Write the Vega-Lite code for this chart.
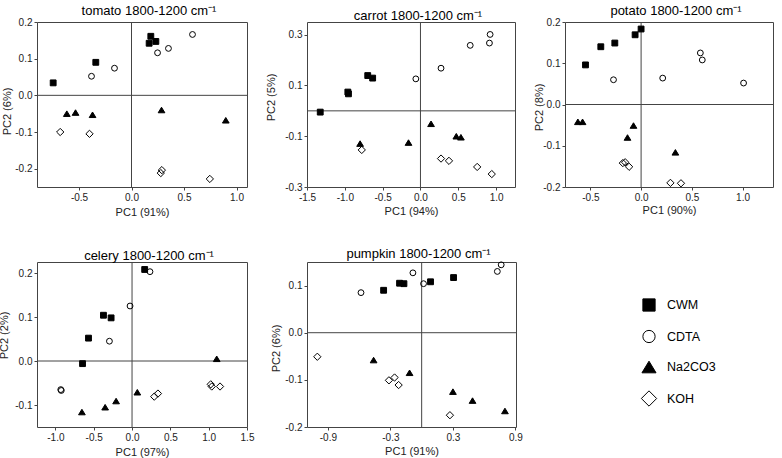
{
  "$schema": "https://vega.github.io/schema/vega-lite/v6.json",
  "padding": {"left": -3, "top": 4, "right": 0, "bottom": 0},
  "background": "white",
  "datasets": {
    "tomato": [
      {"g": "CWM", "pc1": -0.746, "pc2": 0.034}, {"g": "CWM", "pc1": -0.34, "pc2": 0.09}, {"g": "CWM", "pc1": 0.168, "pc2": 0.142}, {"g": "CWM", "pc1": 0.184, "pc2": 0.161}, {"g": "CWM", "pc1": 0.232, "pc2": 0.147},
      {"g": "CDTA", "pc1": -0.381, "pc2": 0.052}, {"g": "CDTA", "pc1": -0.162, "pc2": 0.074}, {"g": "CDTA", "pc1": 0.248, "pc2": 0.116}, {"g": "CDTA", "pc1": 0.352, "pc2": 0.128}, {"g": "CDTA", "pc1": 0.581, "pc2": 0.166},
      {"g": "Na2CO3", "pc1": -0.616, "pc2": -0.05}, {"g": "Na2CO3", "pc1": -0.533, "pc2": -0.047}, {"g": "Na2CO3", "pc1": -0.371, "pc2": -0.053}, {"g": "Na2CO3", "pc1": 0.286, "pc2": -0.04}, {"g": "Na2CO3", "pc1": 0.898, "pc2": -0.068},
      {"g": "KOH", "pc1": -0.679, "pc2": -0.1}, {"g": "KOH", "pc1": -0.4, "pc2": -0.105}, {"g": "KOH", "pc1": 0.289, "pc2": -0.204}, {"g": "KOH", "pc1": 0.279, "pc2": -0.212}, {"g": "KOH", "pc1": 0.746, "pc2": -0.228}
    ],
    "carrot": [
      {"g": "CWM", "pc1": -1.325, "pc2": -0.005}, {"g": "CWM", "pc1": -0.96, "pc2": 0.074}, {"g": "CWM", "pc1": -0.952, "pc2": 0.067}, {"g": "CWM", "pc1": -0.697, "pc2": 0.139}, {"g": "CWM", "pc1": -0.632, "pc2": 0.129},
      {"g": "CDTA", "pc1": -0.061, "pc2": 0.126}, {"g": "CDTA", "pc1": 0.272, "pc2": 0.168}, {"g": "CDTA", "pc1": 0.658, "pc2": 0.258}, {"g": "CDTA", "pc1": 0.912, "pc2": 0.267}, {"g": "CDTA", "pc1": 0.921, "pc2": 0.301},
      {"g": "Na2CO3", "pc1": -0.798, "pc2": -0.129}, {"g": "Na2CO3", "pc1": -0.158, "pc2": -0.125}, {"g": "Na2CO3", "pc1": 0.14, "pc2": -0.051}, {"g": "Na2CO3", "pc1": 0.474, "pc2": -0.1}, {"g": "Na2CO3", "pc1": 0.535, "pc2": -0.104},
      {"g": "KOH", "pc1": -0.776, "pc2": -0.154}, {"g": "KOH", "pc1": 0.272, "pc2": -0.188}, {"g": "KOH", "pc1": 0.377, "pc2": -0.197}, {"g": "KOH", "pc1": 0.75, "pc2": -0.221}, {"g": "KOH", "pc1": 0.943, "pc2": -0.249}
    ],
    "potato": [
      {"g": "CWM", "pc1": -0.548, "pc2": 0.096}, {"g": "CWM", "pc1": -0.397, "pc2": 0.14}, {"g": "CWM", "pc1": -0.259, "pc2": 0.149}, {"g": "CWM", "pc1": -0.059, "pc2": 0.169}, {"g": "CWM", "pc1": 0.0, "pc2": 0.183},
      {"g": "CDTA", "pc1": -0.272, "pc2": 0.06}, {"g": "CDTA", "pc1": 0.213, "pc2": 0.064}, {"g": "CDTA", "pc1": 0.584, "pc2": 0.125}, {"g": "CDTA", "pc1": 0.603, "pc2": 0.108}, {"g": "CDTA", "pc1": 1.01, "pc2": 0.052},
      {"g": "Na2CO3", "pc1": -0.623, "pc2": -0.042}, {"g": "Na2CO3", "pc1": -0.577, "pc2": -0.042}, {"g": "Na2CO3", "pc1": -0.075, "pc2": -0.051}, {"g": "Na2CO3", "pc1": -0.134, "pc2": -0.08}, {"g": "Na2CO3", "pc1": 0.338, "pc2": -0.116},
      {"g": "KOH", "pc1": -0.18, "pc2": -0.142}, {"g": "KOH", "pc1": -0.157, "pc2": -0.14}, {"g": "KOH", "pc1": -0.118, "pc2": -0.151}, {"g": "KOH", "pc1": 0.289, "pc2": -0.19}, {"g": "KOH", "pc1": 0.393, "pc2": -0.191}
    ],
    "celery": [
      {"g": "CWM", "pc1": -0.646, "pc2": -0.006}, {"g": "CWM", "pc1": -0.568, "pc2": 0.052}, {"g": "CWM", "pc1": -0.373, "pc2": 0.104}, {"g": "CWM", "pc1": -0.273, "pc2": 0.098}, {"g": "CWM", "pc1": 0.165, "pc2": 0.208},
      {"g": "CDTA", "pc1": -0.923, "pc2": -0.067}, {"g": "CDTA", "pc1": -0.93, "pc2": -0.065}, {"g": "CDTA", "pc1": -0.295, "pc2": 0.045}, {"g": "CDTA", "pc1": -0.026, "pc2": 0.125}, {"g": "CDTA", "pc1": 0.234, "pc2": 0.203},
      {"g": "Na2CO3", "pc1": -0.654, "pc2": -0.116}, {"g": "Na2CO3", "pc1": -0.351, "pc2": -0.105}, {"g": "Na2CO3", "pc1": -0.208, "pc2": -0.091}, {"g": "Na2CO3", "pc1": 0.069, "pc2": -0.071}, {"g": "Na2CO3", "pc1": 1.105, "pc2": 0.005},
      {"g": "KOH", "pc1": 0.29, "pc2": -0.081}, {"g": "KOH", "pc1": 0.338, "pc2": -0.074}, {"g": "KOH", "pc1": 1.027, "pc2": -0.053}, {"g": "KOH", "pc1": 1.04, "pc2": -0.058}, {"g": "KOH", "pc1": 1.148, "pc2": -0.058}
    ],
    "pumpkin": [
      {"g": "CWM", "pc1": -0.365, "pc2": 0.09}, {"g": "CWM", "pc1": -0.212, "pc2": 0.105}, {"g": "CWM", "pc1": -0.17, "pc2": 0.104}, {"g": "CWM", "pc1": 0.085, "pc2": 0.108}, {"g": "CWM", "pc1": 0.306, "pc2": 0.117},
      {"g": "CDTA", "pc1": -0.582, "pc2": 0.085}, {"g": "CDTA", "pc1": -0.084, "pc2": 0.127}, {"g": "CDTA", "pc1": 0.018, "pc2": 0.104}, {"g": "CDTA", "pc1": 0.726, "pc2": 0.13}, {"g": "CDTA", "pc1": 0.763, "pc2": 0.144},
      {"g": "Na2CO3", "pc1": -0.461, "pc2": -0.058}, {"g": "Na2CO3", "pc1": -0.116, "pc2": -0.085}, {"g": "Na2CO3", "pc1": 0.3, "pc2": -0.125}, {"g": "Na2CO3", "pc1": 0.488, "pc2": -0.144}, {"g": "Na2CO3", "pc1": 0.799, "pc2": -0.166},
      {"g": "KOH", "pc1": -1.001, "pc2": -0.051}, {"g": "KOH", "pc1": -0.314, "pc2": -0.101}, {"g": "KOH", "pc1": -0.26, "pc2": -0.095}, {"g": "KOH", "pc1": -0.221, "pc2": -0.111}, {"g": "KOH", "pc1": 0.271, "pc2": -0.175}
    ],
    "origin": [{"z": 0}]
  },
  "spacing": 29,
  "vconcat": [
    {
      "spacing": 16,
      "hconcat": [
        {
          "title": {"text": "tomato 1800-1200 cm⁻¹"},
          "width": 210, "height": 165,
          "layer": [
            {"data": {"name": "origin"}, "mark": {"type": "rule", "color": "#444", "strokeWidth": 1}, "encoding": {"x": {"field": "z", "type": "quantitative"}}},
            {"data": {"name": "origin"}, "mark": {"type": "rule", "color": "#444", "strokeWidth": 1}, "encoding": {"y": {"field": "z", "type": "quantitative"}}},
            {"data": {"name": "tomato"}, "mark": {"type": "point", "size": 34, "strokeWidth": 1, "opacity": 1},
             "encoding": {
               "x": {"field": "pc1", "type": "quantitative", "title": "PC1 (91%)", "scale": {"domain": [-0.9, 1.1], "nice": false, "zero": false}, "axis": {"values": [-0.5, 0, 0.5, 1.0], "format": ".1f", "titleY": 25, "titleBaseline": "middle"}},
               "y": {"field": "pc2", "type": "quantitative", "title": "PC2 (6%)", "scale": {"domain": [-0.25, 0.2], "nice": false, "zero": false}, "axis": {"values": [-0.2, -0.1, 0, 0.1, 0.2], "format": ".1f", "titleX": -29.5, "titleY": 89, "titleBaseline": "middle"}},
               "shape": {"field": "g", "type": "nominal", "title": null, "scale": {"domain": ["CWM", "CDTA", "Na2CO3", "KOH"], "range": ["square", "circle", "M0,-0.95L1.15,0.95L-1.15,0.95Z", "M0,-1.25L1.25,0L0,1.25L-1.25,0Z"]}},
               "fill": {"field": "g", "type": "nominal", "title": null, "scale": {"domain": ["CWM", "CDTA", "Na2CO3", "KOH"], "range": ["black", "transparent", "black", "transparent"]}},
               "stroke": {"field": "g", "type": "nominal", "title": null, "scale": {"domain": ["CWM", "CDTA", "Na2CO3", "KOH"], "range": ["black", "black", "black", "black"]}}
             }}
          ]
        },
        {
          "title": {"text": "carrot 1800-1200 cm⁻¹"},
          "width": 208, "height": 165,
          "layer": [
            {"data": {"name": "origin"}, "mark": {"type": "rule", "color": "#444", "strokeWidth": 1}, "encoding": {"x": {"field": "z", "type": "quantitative"}}},
            {"data": {"name": "origin"}, "mark": {"type": "rule", "color": "#444", "strokeWidth": 1}, "encoding": {"y": {"field": "z", "type": "quantitative"}}},
            {"data": {"name": "carrot"}, "mark": {"type": "point", "size": 34, "strokeWidth": 1, "opacity": 1},
             "encoding": {
               "x": {"field": "pc1", "type": "quantitative", "title": "PC1 (94%)", "scale": {"domain": [-1.5, 1.25], "nice": false, "zero": false}, "axis": {"values": [-1.5, -1.0, -0.5, 0, 0.5, 1.0], "format": ".1f", "titleY": 24.5, "titleBaseline": "middle"}},
               "y": {"field": "pc2", "type": "quantitative", "title": "PC2 (5%)", "scale": {"domain": [-0.3, 0.35], "nice": false, "zero": false}, "axis": {"values": [-0.3, -0.2, -0.1, 0, 0.1, 0.2, 0.3], "format": ".1f", "titleX": -36, "titleY": 75, "titleBaseline": "middle"}},
               "shape": {"field": "g", "type": "nominal", "title": null, "scale": {"domain": ["CWM", "CDTA", "Na2CO3", "KOH"], "range": ["square", "circle", "M0,-0.95L1.15,0.95L-1.15,0.95Z", "M0,-1.25L1.25,0L0,1.25L-1.25,0Z"]}},
               "fill": {"field": "g", "type": "nominal", "title": null, "scale": {"domain": ["CWM", "CDTA", "Na2CO3", "KOH"], "range": ["black", "transparent", "black", "transparent"]}},
               "stroke": {"field": "g", "type": "nominal", "title": null, "scale": {"domain": ["CWM", "CDTA", "Na2CO3", "KOH"], "range": ["black", "black", "black", "black"]}}
             }}
          ]
        },
        {
          "title": {"text": "potato 1800-1200 cm⁻¹"},
          "width": 208, "height": 165,
          "layer": [
            {"data": {"name": "origin"}, "mark": {"type": "rule", "color": "#444", "strokeWidth": 1}, "encoding": {"x": {"field": "z", "type": "quantitative"}}},
            {"data": {"name": "origin"}, "mark": {"type": "rule", "color": "#444", "strokeWidth": 1}, "encoding": {"y": {"field": "z", "type": "quantitative"}}},
            {"data": {"name": "potato"}, "mark": {"type": "point", "size": 34, "strokeWidth": 1, "opacity": 1},
             "encoding": {
               "x": {"field": "pc1", "type": "quantitative", "title": "PC1 (90%)", "scale": {"domain": [-0.75, 1.3], "nice": false, "zero": false}, "axis": {"values": [-0.5, 0, 0.5, 1.0], "format": ".1f", "titleY": 23, "titleBaseline": "middle"}},
               "y": {"field": "pc2", "type": "quantitative", "title": "PC2 (8%)", "scale": {"domain": [-0.2, 0.2], "nice": false, "zero": false}, "axis": {"values": [-0.2, -0.1, 0, 0.1, 0.2], "format": ".1f", "titleX": -26, "titleY": 85, "titleBaseline": "middle"}},
               "shape": {"field": "g", "type": "nominal", "title": null, "scale": {"domain": ["CWM", "CDTA", "Na2CO3", "KOH"], "range": ["square", "circle", "M0,-0.95L1.15,0.95L-1.15,0.95Z", "M0,-1.25L1.25,0L0,1.25L-1.25,0Z"]}},
               "fill": {"field": "g", "type": "nominal", "title": null, "scale": {"domain": ["CWM", "CDTA", "Na2CO3", "KOH"], "range": ["black", "transparent", "black", "transparent"]}},
               "stroke": {"field": "g", "type": "nominal", "title": null, "scale": {"domain": ["CWM", "CDTA", "Na2CO3", "KOH"], "range": ["black", "black", "black", "black"]}}
             }}
          ]
        }
      ]
    },
    {
      "spacing": 14,
      "hconcat": [
        {
          "title": {"text": "celery 1800-1200 cm⁻¹"},
          "width": 210, "height": 165,
          "layer": [
            {"data": {"name": "origin"}, "mark": {"type": "rule", "color": "#444", "strokeWidth": 1}, "encoding": {"x": {"field": "z", "type": "quantitative"}}},
            {"data": {"name": "origin"}, "mark": {"type": "rule", "color": "#444", "strokeWidth": 1}, "encoding": {"y": {"field": "z", "type": "quantitative"}}},
            {"data": {"name": "celery"}, "mark": {"type": "point", "size": 34, "strokeWidth": 1, "opacity": 1},
             "encoding": {
               "x": {"field": "pc1", "type": "quantitative", "title": "PC1 (97%)", "scale": {"domain": [-1.24, 1.5], "nice": false, "zero": false}, "axis": {"values": [-1.0, -0.5, 0, 0.5, 1.0, 1.5], "format": ".1f", "titleY": 25, "titleBaseline": "middle"}},
               "y": {"field": "pc2", "type": "quantitative", "title": "PC2 (2%)", "scale": {"domain": [-0.15, 0.225], "nice": false, "zero": false}, "axis": {"values": [-0.1, 0, 0.1, 0.2], "format": ".1f", "titleX": -33, "titleY": 73, "titleBaseline": "middle"}},
               "shape": {"field": "g", "type": "nominal", "title": null, "scale": {"domain": ["CWM", "CDTA", "Na2CO3", "KOH"], "range": ["square", "circle", "M0,-0.95L1.15,0.95L-1.15,0.95Z", "M0,-1.25L1.25,0L0,1.25L-1.25,0Z"]}},
               "fill": {"field": "g", "type": "nominal", "title": null, "scale": {"domain": ["CWM", "CDTA", "Na2CO3", "KOH"], "range": ["black", "transparent", "black", "transparent"]}},
               "stroke": {"field": "g", "type": "nominal", "title": null, "scale": {"domain": ["CWM", "CDTA", "Na2CO3", "KOH"], "range": ["black", "black", "black", "black"]}}
             }}
          ]
        },
        {
          "title": {"text": "pumpkin 1800-1200 cm⁻¹"},
          "width": 209, "height": 165,
          "layer": [
            {"data": {"name": "origin"}, "mark": {"type": "rule", "color": "#444", "strokeWidth": 1}, "encoding": {"x": {"field": "z", "type": "quantitative"}}},
            {"data": {"name": "origin"}, "mark": {"type": "rule", "color": "#444", "strokeWidth": 1}, "encoding": {"y": {"field": "z", "type": "quantitative"}}},
            {"data": {"name": "pumpkin"}, "mark": {"type": "point", "size": 34, "strokeWidth": 1, "opacity": 1},
             "encoding": {
               "x": {"field": "pc1", "type": "quantitative", "title": "PC1 (91%)", "scale": {"domain": [-1.1, 0.905], "nice": false, "zero": false}, "axis": {"values": [-0.9, -0.6, -0.3, 0, 0.3, 0.6, 0.9], "format": ".1f", "titleY": 24.5, "titleBaseline": "middle"}},
               "y": {"field": "pc2", "type": "quantitative", "title": "PC2 (6%)", "scale": {"domain": [-0.2, 0.15], "nice": false, "zero": false}, "axis": {"values": [-0.2, -0.1, 0, 0.1], "format": ".1f", "titleX": -31, "titleY": 86, "titleBaseline": "middle"}},
               "shape": {"field": "g", "type": "nominal", "title": null, "scale": {"domain": ["CWM", "CDTA", "Na2CO3", "KOH"], "range": ["square", "circle", "M0,-0.95L1.15,0.95L-1.15,0.95Z", "M0,-1.25L1.25,0L0,1.25L-1.25,0Z"]}},
               "fill": {"field": "g", "type": "nominal", "title": null, "scale": {"domain": ["CWM", "CDTA", "Na2CO3", "KOH"], "range": ["black", "transparent", "black", "transparent"]}},
               "stroke": {"field": "g", "type": "nominal", "title": null, "scale": {"domain": ["CWM", "CDTA", "Na2CO3", "KOH"], "range": ["black", "black", "black", "black"]}}
             }}
          ]
        }
      ]
    }
  ],
  "resolve": {"scale": {"x": "independent", "y": "independent", "shape": "shared", "fill": "shared", "stroke": "shared"}},
  "config": {
    "locale": {"number": {"decimal": ".", "thousands": ",", "grouping": [3], "currency": ["$", ""], "minus": "-"}},
    "font": "Liberation Sans",
    "view": {"stroke": "#444", "strokeWidth": 1},
    "title": {"font": "Liberation Sans", "fontSize": 13, "fontWeight": "normal", "color": "black", "dx": 7, "offset": -1},
    "axis": {"domain": false, "grid": false, "ticks": true, "tickSize": 3, "tickColor": "#444", "labelFont": "Liberation Sans", "labelFontSize": 10, "labelColor": "#222", "labelPadding": 2, "labelFlush": false, "labelOverlap": false, "titleFont": "Liberation Sans", "titleFontSize": 11, "titleFontWeight": "normal", "titleColor": "#222"},
    "legend": {"orient": "none", "legendX": 605, "legendY": 276, "symbolSize": 150, "symbolStrokeWidth": 1, "labelFont": "Liberation Sans", "labelFontSize": 12.5, "labelColor": "black", "rowPadding": 13.5, "labelOffset": 11}
  }
}
